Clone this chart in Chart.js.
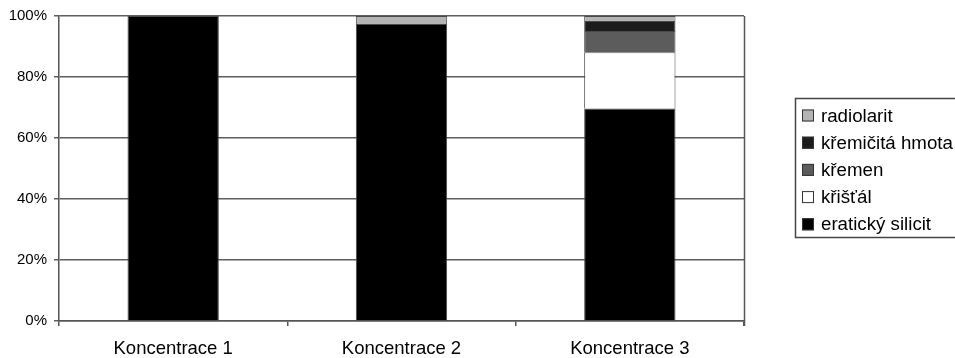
<!DOCTYPE html>
<html>
<head>
<meta charset="utf-8">
<script src="https://cdn.jsdelivr.net/npm/chart.js@4/dist/chart.umd.min.js"></script>
<style>
  html, body { margin: 0; padding: 0; background: #fff; overflow: hidden; }
  canvas { display: block; }
</style>
</head>
<body>
<canvas id="c" width="955" height="358"></canvas>
<script>
// Podíl surovin v jednotlivých koncentracích (%)
const categories = ['Koncentrace 1', 'Koncentrace 2', 'Koncentrace 3'];
const eratickySilicit = [100, 97.4, 69.7];
const kristal = [null, null, 18.4];
const kremen = [null, null, 7.0];
const kremicitaHmota = [null, null, 3.3];
const radiolarit = [null, 2.6, 1.6];
const yTickLabels = ['0%', '20%', '40%', '60%', '80%', '100%'];

const FONT = '"Liberation Sans", Arial, sans-serif';
const AXIS = '#555';

// Framed legend at the right, listing the series top-down as stacked
const framedLegend = {
  id: 'framedLegend',
  afterDraw(chart) {
    const ctx = chart.ctx;
    const area = chart.chartArea;
    ctx.save();
    // right edge of the plot frame
    ctx.strokeStyle = AXIS;
    ctx.lineWidth = 1.5;
    ctx.beginPath();
    ctx.moveTo(area.right + 0.5, area.top);
    ctx.lineTo(area.right + 0.5, area.bottom + 5);
    ctx.stroke();

    const left = 795.5, top = 98.5, bottom = 237.5, right = 975;
    ctx.strokeStyle = '#444';
    ctx.lineWidth = 1.5;
    ctx.strokeRect(left, top, right - left, bottom - top);

    const items = chart.data.datasets.slice().reverse();
    const rowH = 27.2;
    ctx.font = '18.7px ' + FONT;
    ctx.textBaseline = 'middle';
    ctx.textAlign = 'left';
    items.forEach((ds, i) => {
      const cy = 115.5 + i * rowH;
      ctx.fillStyle = ds.backgroundColor;
      ctx.fillRect(802, cy - 6, 12, 12);
      ctx.strokeStyle = '#333';
      ctx.lineWidth = 1;
      ctx.strokeRect(802.5, cy - 5.5, 11, 11);
      ctx.fillStyle = '#000';
      ctx.fillText(ds.label, 821, cy + 1);
    });
    ctx.restore();
  }
};

const barStyle = { borderColor: '#4a4a4a', borderWidth: 1, barPercentage: 0.4, categoryPercentage: 1.0 };

new Chart(document.getElementById('c'), {
  type: 'bar',
  data: {
    labels: categories,
    datasets: [
      { label: 'eratický silicit', data: eratickySilicit, backgroundColor: '#000000', ...barStyle },
      { label: 'křišťál', data: kristal, backgroundColor: '#ffffff', ...barStyle },
      { label: 'křemen', data: kremen, backgroundColor: '#5c5c5c', ...barStyle },
      { label: 'křemičitá hmota', data: kremicitaHmota, backgroundColor: '#1c1c1c', ...barStyle },
      { label: 'radiolarit', data: radiolarit, backgroundColor: '#b4b4b4', ...barStyle }
    ]
  },
  options: {
    responsive: false,
    animation: false,
    layout: { padding: { top: 16, right: 211, left: 0, bottom: 0 } },
    plugins: { legend: { display: false }, tooltip: { enabled: false } },
    scales: {
      x: {
        stacked: true,
        afterFit(scale) { scale.height = 37; },
        grid: { offset: true, drawOnChartArea: false, color: AXIS, lineWidth: 1.5, tickLength: 5 },
        border: { color: AXIS, width: 1.5 },
        ticks: { color: '#000', font: { family: FONT, size: 18.5 }, padding: 12, maxRotation: 0 }
      },
      y: {
        stacked: true,
        min: 0,
        max: 100,
        afterFit(scale) { scale.width = 59; },
        grid: { color: '#5e5e5e', lineWidth: 1.5, tickLength: 5 },
        border: { color: AXIS, width: 1.5 },
        ticks: {
          stepSize: 20,
          color: '#000',
          font: { family: FONT, size: 15 },
          padding: 7,
          callback: (v, i) => yTickLabels[i]
        }
      }
    }
  },
  plugins: [framedLegend]
});
</script>
</body>
</html>
